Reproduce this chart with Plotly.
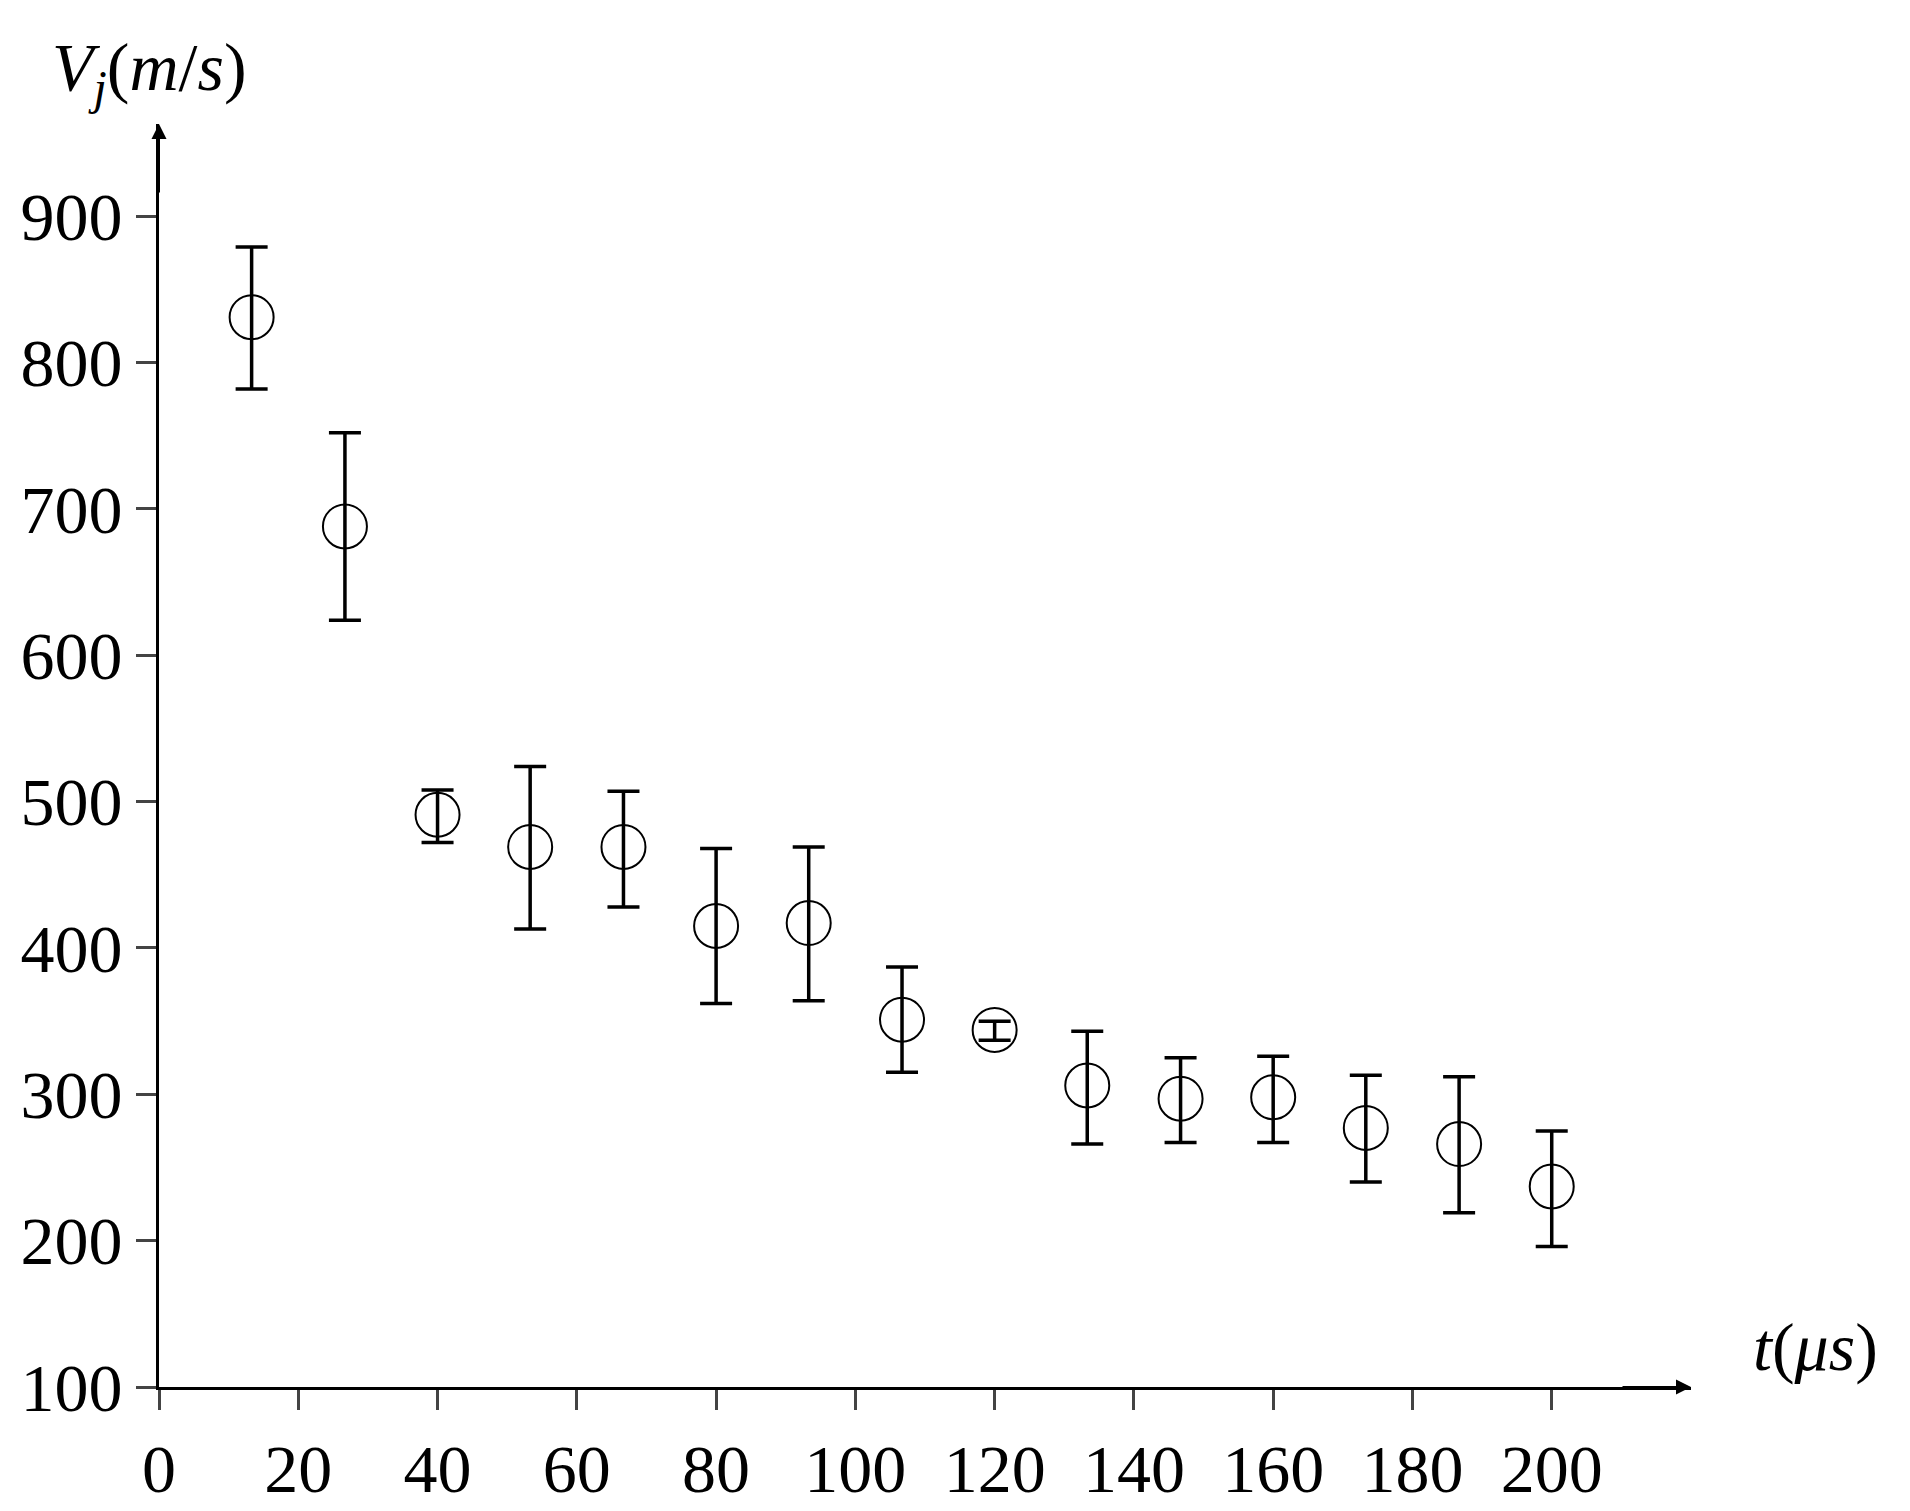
import plotly.graph_objects as go

t = [13.3, 26.7, 40, 53.3, 66.7, 80, 93.3, 106.7, 120, 133.3, 146.7, 160, 173.3, 186.7, 200]
v = [831, 688, 491, 469, 469, 415, 417, 351, 344, 306, 297, 298, 277, 266, 237]
v_hi = [879, 752, 508, 524, 507, 468, 469, 387, 350, 343, 325, 326, 313, 312, 275]
v_lo = [782, 624, 472, 413, 428, 362, 364, 315, 337, 266, 267, 267, 240, 219, 196]
xticks = [0, 20, 40, 60, 80, 100, 120, 140, 160, 180, 200]
yticks = [100, 200, 300, 400, 500, 600, 700, 800, 900]

fig = go.Figure(go.Scatter(
    x=t, y=v, mode="markers",
    marker=dict(symbol="circle-open", size=44, color="black", line=dict(width=2)),
    error_y=dict(type="data", symmetric=False,
                 array=[h - c for h, c in zip(v_hi, v)],
                 arrayminus=[c - l for c, l in zip(v, v_lo)],
                 color="black", thickness=3.5, width=16),
))
font = dict(family="Liberation Serif, DejaVu Serif, serif", size=68, color="black")
fig.update_layout(
    width=1910, height=1511, plot_bgcolor="white", paper_bgcolor="white",
    showlegend=False, font=font,
    margin=dict(l=139, r=227, t=116, b=130),
    xaxis=dict(range=[0, 220], tickvals=xticks, showline=True, linecolor="black", linewidth=3,
               ticks="outside", ticklen=20, tickwidth=3, showgrid=False, zeroline=False),
    yaxis=dict(range=[100, 963], tickvals=yticks, showline=True, linecolor="black", linewidth=3,
               ticks="outside", ticklen=20, tickwidth=3, showgrid=False, zeroline=False),
    annotations=[
        dict(x=220, y=100, ax=-70, ay=0, xref="x", yref="y",
             showarrow=True, arrowhead=2, arrowsize=1.5, arrowwidth=2, arrowcolor="black", text=""),
        dict(x=0, y=963, ax=0, ay=70, xref="x", yref="y", showarrow=True,
             arrowhead=2, arrowsize=1.5, arrowwidth=2, arrowcolor="black", text=""),
        dict(x=0, y=1.0, xref="paper", yref="paper", yshift=8, xshift=-10, showarrow=False,
             text="<i>V<sub>j</sub></i>(<i>m</i>/<i>s</i>)", font=font, xanchor="center", yanchor="bottom"),
        dict(x=1.0, y=100, xref="paper", yref="y", xshift=60, showarrow=False,
             text="<i>t</i>(<i>μs</i>)", font=font, xanchor="left", yanchor="bottom"),
    ],
)
fig.write_html("out.html")
